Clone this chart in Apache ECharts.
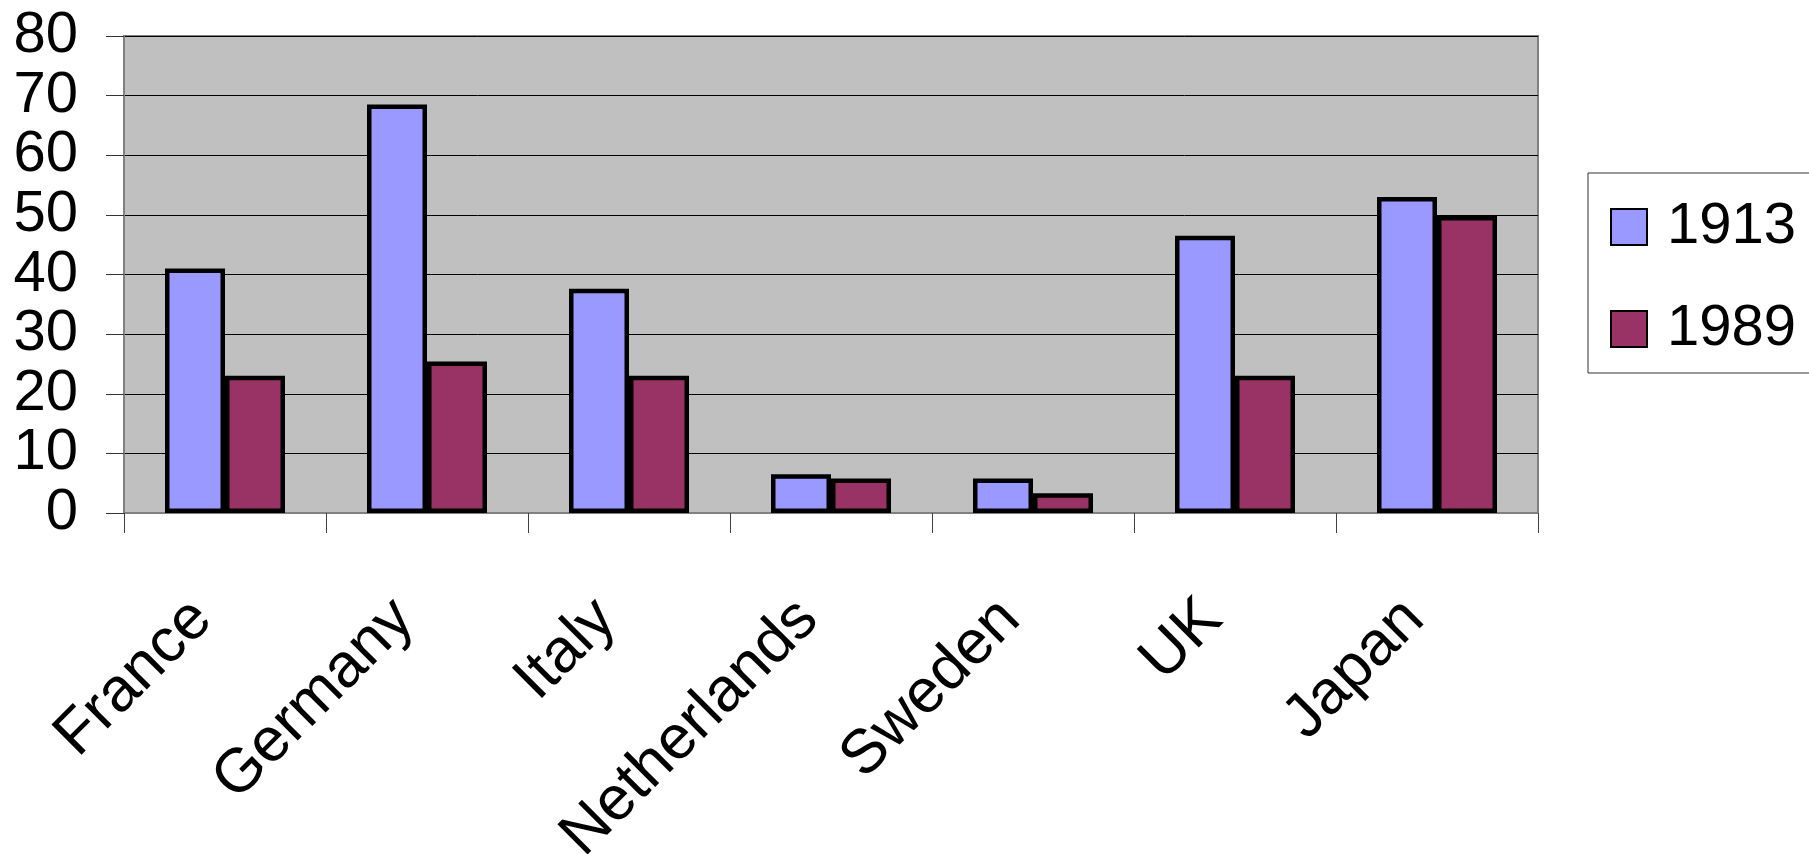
<!DOCTYPE html>
<html>
<head>
<meta charset="UTF-8">
<title>1913 vs 1989</title>
<script src="https://cdn.jsdelivr.net/npm/echarts@6/dist/echarts.min.js"></script>
<style>
  html, body { margin: 0; padding: 0; background: #fff; }
  #chart { width: 1809px; height: 854px; }
</style>
</head>
<body>
<div id="chart"></div>
<script>
var countries = ['France', 'Germany', 'Italy', 'Netherlands', 'Sweden', 'UK', 'Japan'];
var values1913 = [41, 68.5, 37.6, 6.5, 5.8, 46.5, 53];
var values1989 = [23, 25.4, 23, 5.8, 3.3, 23, 49.8];
var yTicks = [0, 10, 20, 30, 40, 50, 60, 70, 80];

var font = '"Liberation Sans", Arial, sans-serif';
var chart = echarts.init(document.getElementById('chart'));

chart.setOption({
  animation: false,
  backgroundColor: '#fff',
  grid: {
    left: 124, right: 271, top: 36, bottom: 341,
    outerBoundsMode: 'none',
    containLabel: false,
    show: true,
    backgroundColor: '#C0C0C0',
    borderColor: '#808080',
    borderWidth: 2
  },
  legend: {
    orient: 'vertical',
    left: 1588, top: 173,
    padding: [24, 16, 14, 22],
    itemWidth: 36, itemHeight: 36,
    itemGap: 42,
    icon: 'rect',
    backgroundColor: '#fff',
    borderColor: '#333',
    borderWidth: 1,
    textStyle: { fontSize: 58, fontFamily: font, color: '#000', lineHeight: 60, padding: [0, 0, 0, 15] },
    data: ['1913', '1989']
  },
  xAxis: {
    type: 'category',
    data: countries,
    axisLine: { lineStyle: { color: '#808080', width: 2 } },
    axisTick: { show: true, length: 20, lineStyle: { color: '#404040', width: 1 } },
    axisLabel: {
      rotate: 45, fontSize: 62, fontFamily: font, color: '#000',
      margin: 74, interval: 0, padding: [0, 32, 0, 0], hideOverlap: false
    }
  },
  yAxis: {
    type: 'value',
    min: yTicks[0], max: yTicks[yTicks.length - 1], interval: 10,
    axisLine: { show: true, lineStyle: { color: '#808080', width: 2 } },
    axisTick: { show: true, length: 18, lineStyle: { color: '#333', width: 1 } },
    axisLabel: {
      fontSize: 58, fontFamily: font, color: '#000', margin: 46,
      showMinLabel: true, showMaxLabel: true, hideOverlap: false
    },
    splitLine: { lineStyle: { color: '#000', width: 1 } }
  },
  series: [
    {
      name: '1913', type: 'bar', data: values1913,
      barWidth: 60, barGap: '0%',
      itemStyle: { color: '#9999FF', borderColor: '#000', borderWidth: 4.5 }
    },
    {
      name: '1989', type: 'bar', data: values1989,
      barWidth: 60,
      itemStyle: { color: '#993366', borderColor: '#000', borderWidth: 4.5 }
    }
  ]
});
</script>
</body>
</html>
